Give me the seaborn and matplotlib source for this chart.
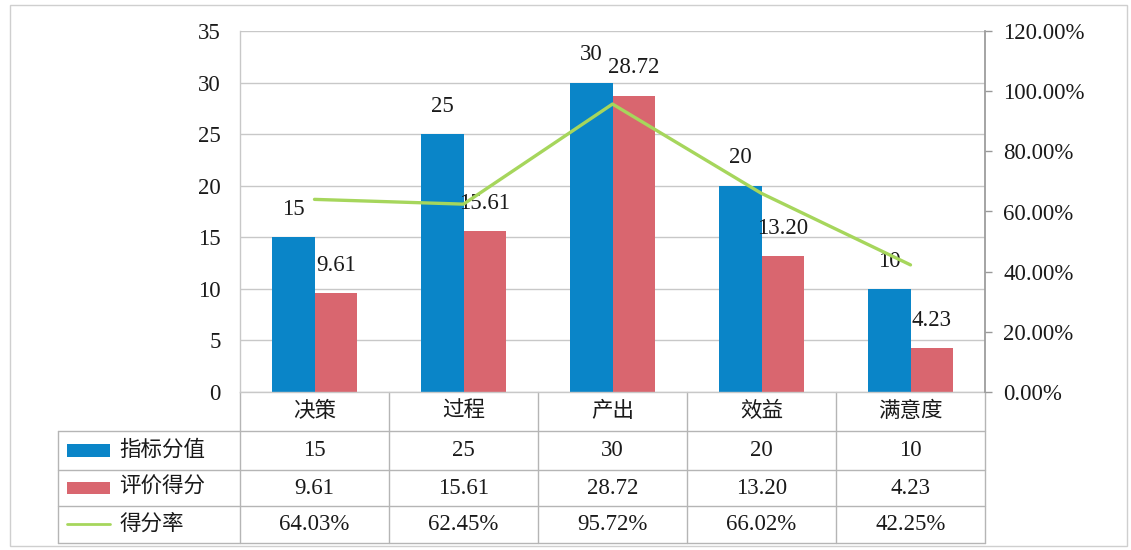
import numpy as np
import pandas as pd
import matplotlib
matplotlib.use("Agg")
import matplotlib.pyplot as plt
import matplotlib.transforms as mtrans
from matplotlib.patches import Rectangle
from matplotlib.lines import Line2D
from matplotlib.ticker import FuncFormatter
import seaborn as sns

# ---------------- data ----------------
categories = ["决策", "过程", "产出", "效益", "满意度"]
index_scores = [15, 25, 30, 20, 10]
eval_scores = [9.61, 15.61, 28.72, 13.20, 4.23]
score_rates = [0.6403, 0.6245, 0.9572, 0.6602, 0.4225]
series_names = ["指标分值", "评价得分", "得分率"]
left_ticks = [0, 5, 10, 15, 20, 25, 30, 35]
right_ticks = [0.0, 0.2, 0.4, 0.6, 0.8, 1.0, 1.2]

BLUE = "#0a85c8"
RED = "#d9666f"
GREEN = "#a6d65c"
GRID = "#c8c8c8"
TXT = "#1a1a1a"
FS = 16.5

sns.set_theme(style="white")
plt.rcParams["font.family"] = ["Liberation Serif", "Noto Sans CJK SC", "DejaVu Sans"]
plt.rcParams["axes.unicode_minus"] = False

df = pd.DataFrame({
    "cat": categories * 2,
    "value": index_scores + eval_scores,
    "series": [series_names[0]] * len(categories) + [series_names[1]] * len(categories),
})

W, H = 1131, 550
fig = plt.figure(figsize=(W / 100, H / 100), dpi=100)
ax = fig.add_axes([240 / W, 158 / H, 745 / W, 361 / H])

sns.barplot(data=df, x="cat", y="value", hue="series", order=categories,
            hue_order=series_names[:2], palette=[BLUE, RED], width=0.57,
            gap=0, saturation=1, errorbar=None, legend=False, linewidth=0,
            ax=ax)

# data labels
for ci, cont in enumerate(ax.containers):
    for bar in cont:
        h = bar.get_height()
        txt = f"{h:.0f}" if ci == 0 else f"{h:.2f}"
        ax.annotate(txt, (bar.get_x() + bar.get_width() / 2, h),
                    xytext=(0, 20), textcoords="offset points",
                    ha="center", va="center", fontsize=FS, color=TXT)

ax.set_ylim(0, 35)
ax.set_yticks(left_ticks)
ax.yaxis.grid(True, color=GRID, lw=1.0)
ax.set_axisbelow(True)
ax.set_xlabel("")
ax.set_ylabel("")
ax.set_xticks(range(len(categories)))
ax.set_xticklabels([])
ax.tick_params(axis="x", length=0)
ax.tick_params(axis="y", length=0, pad=14, labelsize=FS, labelcolor=TXT)
for s in ["top", "right"]:
    ax.spines[s].set_visible(False)
for s in ["left", "bottom"]:
    ax.spines[s].set_color(GRID)
    ax.spines[s].set_linewidth(1.0)

# line on secondary axis
ax2 = ax.twinx()
sns.lineplot(x=categories, y=score_rates, ax=ax2, color=GREEN, lw=2.4,
             sort=False, legend=False)
ax2.set_ylim(0, 1.2)
ax2.set_yticks(right_ticks)
ax2.yaxis.set_major_formatter(FuncFormatter(lambda v, p: f"{v * 100:.2f}%"))
ax2.set_ylabel("")
ax2.tick_params(axis="y", direction="out", length=5, width=1, color="#999999",
                pad=8, labelsize=FS, labelcolor=TXT)
for s in ["top", "left", "bottom"]:
    ax2.spines[s].set_visible(False)
ax2.spines["right"].set_color("#999999")
ax2.grid(False)
ax.set_xlim(-0.5, len(categories) - 0.5)

# ---------------- data table ----------------
tr = mtrans.blended_transform_factory(ax.transData, ax.transAxes)
row_lines = [-0.108, -0.216, -0.316, -0.418]
row_cent = [-0.162, -0.266, -0.367]
x_left = -1.72
x_right = len(categories) - 0.5
lc = "#b5b5b5"
for y in row_lines:
    ax.add_line(Line2D([x_left, x_right], [y, y], transform=tr, color=lc,
                       lw=1.0, clip_on=False))
for k in range(len(categories) + 1):
    xv = k - 0.5
    ax.add_line(Line2D([xv, xv], [0, row_lines[-1]], transform=tr, color=lc,
                       lw=1.0, clip_on=False))
ax.add_line(Line2D([x_left, x_left], [row_lines[0], row_lines[-1]], transform=tr,
                   color=lc, lw=1.0, clip_on=False))

for i, c in enumerate(categories):
    ax.text(i, -0.054, c, transform=tr, ha="center", va="center",
            fontsize=FS - 1, color=TXT)
    ax.text(i, row_cent[0], f"{index_scores[i]}", transform=tr, ha="center",
            va="center", fontsize=FS, color=TXT)
    ax.text(i, row_cent[1], f"{eval_scores[i]:.2f}", transform=tr, ha="center",
            va="center", fontsize=FS, color=TXT)
    ax.text(i, row_cent[2], f"{score_rates[i] * 100:.2f}%", transform=tr,
            ha="center", va="center", fontsize=FS, color=TXT)

sw_x, sw_w, sw_h = -1.66, 0.29, 0.034
for r, col in enumerate([BLUE, RED]):
    ax.add_patch(Rectangle((sw_x, row_cent[r] - sw_h / 2), sw_w, sw_h,
                           transform=tr, color=col, clip_on=False, lw=0))
ax.add_line(Line2D([sw_x, sw_x + sw_w], [row_cent[2], row_cent[2]], transform=tr,
                   color=GREEN, lw=2.0, clip_on=False))
for r, name in enumerate(series_names):
    ax.text(-1.31, row_cent[r], name, transform=tr, ha="left", va="center",
            fontsize=FS - 1, color=TXT)

# outer chart border
fig.patches.append(Rectangle((10 / W, 4 / H), 1117 / W, 541 / H,
                             transform=fig.transFigure, fill=False,
                             edgecolor="#cfcfcf", lw=1.0))

fig.savefig("out.png", dpi=100, facecolor="white")
